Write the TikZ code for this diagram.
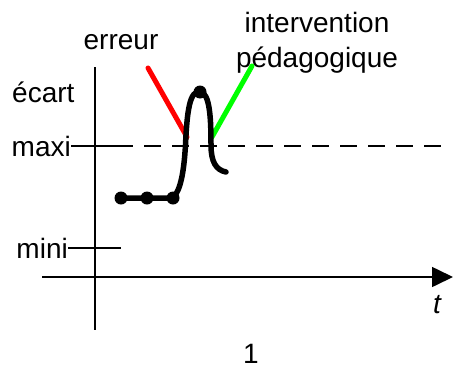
\documentclass[tikz,border=0pt]{standalone}
\usepackage{fontspec}
\setmainfont{Liberation Sans}
\usetikzlibrary{arrows.meta}
\begin{document}
\begin{tikzpicture}[x=1pt,y=-1pt,
  lbl/.style={inner sep=0pt,font=\fontsize{28}{32}\selectfont},
  axis/.style={line width=1.6pt},
  curve/.style={line width=5.5pt,line cap=round,line join=round},
  dotpt/.style={circle,fill=black,inner sep=0pt,minimum size=13pt}]
\useasboundingbox (0,0) rectangle (454,367);
% axes
\coordinate (ytop) at (95,67);
\coordinate (ybot) at (95,330);
\coordinate (xl) at (42,277);
\coordinate (xr) at (453,277);
\draw[axis] (ytop) -- (ybot);
\draw[axis,-{Triangle[length=21pt,width=20pt]}] (xl) -- (xr);
% labels
\node[lbl,anchor=base west] (ecart) at (12,102) {écart};
\node[lbl,anchor=base east] (maxi) at (71,156) {maxi};
\node[lbl,anchor=base east] (mini) at (68,258) {mini};
\node[lbl,anchor=base] (erreur) at (121,49) {erreur};
\node[lbl,anchor=base] (interv) at (317,32) {intervention};
\node[lbl,anchor=base] (peda) at (317,67) {pédagogique};
\node[lbl,anchor=base] (t) at (437,313) {\itshape t};
\node[lbl,anchor=base] (one) at (251,363) {1};
% maxi / mini lines
\coordinate (m1) at (133,146);
\coordinate (m2) at (442,146);
\draw[axis] (maxi.base east |- m1) -- (m1);
\draw[axis,dash pattern=on 17pt off 11pt,dash phase=17pt] (m1) -- (m2);
\coordinate (n1) at (121,248);
\draw[axis] (mini.base east |- n1) -- (n1);
% red and green
\coordinate (r1) at (148,68);
\coordinate (r2) at (187,137);
\coordinate (g1) at (252,66);
\coordinate (g2) at (212,137);
\draw[line width=5pt,red,line cap=round] (r1) -- (r2);
\draw[line width=5pt,color={rgb,255:red,0;green,255;blue,0},line cap=round] (g1) -- (g2);
% curve
\node[dotpt] (d1) at (121,198) {};
\node[dotpt] (d2) at (147,198) {};
\node[dotpt] (d3) at (173,198) {};
\node[dotpt] (pk) at (200,92) {};
\draw[curve] (d1.center) -- (d3.center)
  .. controls (181,190) and (184,170) .. (185.5,145)
  .. controls (187,110) and (190,90) .. (pk.center)
  .. controls (210,92) and (211,120) .. (211,145)
  .. controls (211,162) and (216,170) .. (226,172);
\end{tikzpicture}
\end{document}
